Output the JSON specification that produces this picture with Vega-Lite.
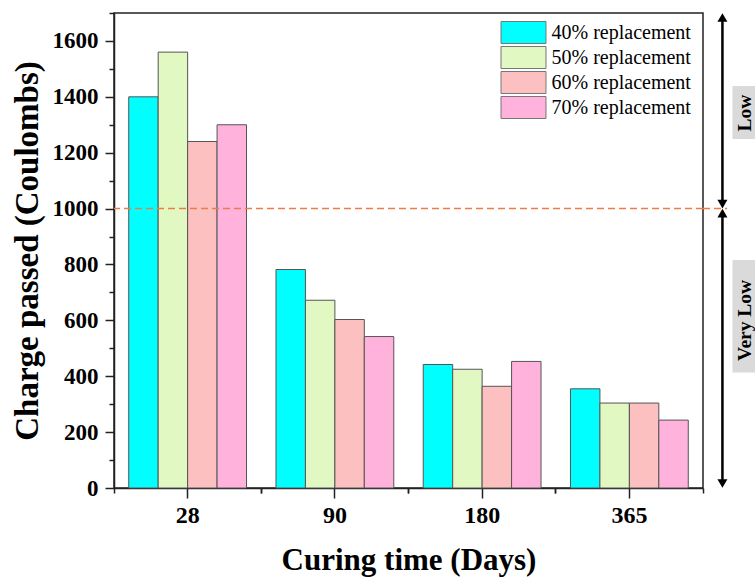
{
  "$schema": "https://vega.github.io/schema/vega-lite/v6.json",
  "width": 589,
  "height": 475,
  "autosize": "none",
  "padding": {"left": 114, "top": 13, "right": 52, "bottom": 89},
  "background": "white",
  "config": {
    "font": "Liberation Serif",
    "view": {"stroke": "#222", "strokeWidth": 1.5},
    "axis": {
      "domainColor": "#222", "domainWidth": 1.5, "tickColor": "#222", "tickWidth": 1.5,
      "labelColor": "black", "titleColor": "black",
      "labelFont": "Liberation Serif", "titleFont": "Liberation Serif",
      "labelFontWeight": "bold", "titleFontWeight": "bold", "grid": false
    },
    "legend": {
      "labelFont": "Liberation Serif", "labelFontSize": 20, "labelColor": "black",
      "symbolStrokeColor": "#777", "symbolStrokeWidth": 1, "symbolOpacity": 1
    }
  },
  "datasets": {
    "charge": [
      {"day": "28", "group": "40% replacement", "value": 1400},
      {"day": "28", "group": "50% replacement", "value": 1560},
      {"day": "28", "group": "60% replacement", "value": 1240},
      {"day": "28", "group": "70% replacement", "value": 1300},
      {"day": "90", "group": "40% replacement", "value": 782},
      {"day": "90", "group": "50% replacement", "value": 672},
      {"day": "90", "group": "60% replacement", "value": 603},
      {"day": "90", "group": "70% replacement", "value": 542},
      {"day": "180", "group": "40% replacement", "value": 442},
      {"day": "180", "group": "50% replacement", "value": 425},
      {"day": "180", "group": "60% replacement", "value": 364},
      {"day": "180", "group": "70% replacement", "value": 453},
      {"day": "365", "group": "40% replacement", "value": 355},
      {"day": "365", "group": "50% replacement", "value": 304},
      {"day": "365", "group": "60% replacement", "value": 304},
      {"day": "365", "group": "70% replacement", "value": 243}
    ],
    "ranges": [
      {"level": "Low", "lo": 1000, "hi": 1700},
      {"level": "Very Low", "lo": 0, "hi": 1000}
    ],
    "labels": [
      {"level": "Low", "mid": 1342, "boxlo": 1249, "boxhi": 1439},
      {"level": "Very Low", "mid": 600, "boxlo": 413, "boxhi": 816}
    ],
    "threshold": [{"limit": 1000}]
  },
  "layer": [
    {
      "data": {"name": "charge"},
      "mark": {"type": "bar", "stroke": "#555", "strokeWidth": 1},
      "encoding": {
        "x": {
          "field": "day", "type": "ordinal", "sort": ["28", "90", "180", "365"],
          "scale": {"type": "band", "domain": ["28", "90", "180", "365"], "paddingInner": 0.2, "paddingOuter": 0.1},
          "axis": {
            "orient": "bottom", "title": "Curing time (Days)", "labelAngle": 0,
            "tickSize": 10, "labelFontSize": 24, "labelPadding": 5,
            "titleFontSize": 31, "titlePadding": 18
          }
        },
        "xOffset": {"field": "group", "type": "nominal", "scale": {"paddingInner": 0, "paddingOuter": 0}},
        "y": {
          "field": "value", "type": "quantitative",
          "scale": {"domain": [0, 1700], "nice": false, "zero": true},
          "axis": {
            "orient": "left", "title": "Charge passed (Coulombs)", "format": "d",
            "values": [0, 200, 400, 600, 800, 1000, 1200, 1400, 1600],
            "tickSize": 9, "labelFontSize": 23, "labelPadding": 7,
            "titleFontSize": 33, "titlePadding": 8
          }
        },
        "color": {
          "field": "group", "type": "nominal",
          "scale": {"range": ["#00FFFF", "#E1F8C2", "#FCC0C0", "#FFB2DC"]},
          "legend": {
            "title": null, "orient": "none", "legendX": 398, "legendY": 8, "padding": 0,
            "symbolType": "M-2.045,-1H2.045V1H-2.045Z", "symbolSize": 484,
            "labelOffset": 16.5, "rowPadding": -2
          }
        }
      }
    },
    {
      "data": {"name": "charge"},
      "mark": {"type": "point", "opacity": 0},
      "encoding": {
        "x": {
          "field": "day", "type": "ordinal", "sort": ["28", "90", "180", "365"],
          "scale": {"type": "band", "domain": ["28", "90", "180", "365"], "paddingInner": 0.2, "paddingOuter": 0.1},
          "axis": {"orient": "bottom", "title": null, "labels": false, "domain": false, "bandPosition": -0.125, "tickSize": 5}
        },
        "y": {
          "field": "value", "type": "quantitative",
          "scale": {"domain": [0, 1700], "nice": false},
          "axis": {
            "orient": "left", "title": null, "labels": false, "domain": false, "tickSize": 5,
            "values": [100, 300, 500, 700, 900, 1100, 1300, 1500, 1700]
          }
        }
      }
    },
    {
      "data": {"name": "charge"},
      "mark": {"type": "point", "opacity": 0},
      "encoding": {
        "x": {
          "field": "day", "type": "ordinal", "sort": ["28", "90", "180", "365"],
          "scale": {"type": "band", "domain": ["28", "90", "180", "365"], "paddingInner": 0.2, "paddingOuter": 0.1},
          "axis": {"orient": "bottom", "title": null, "labels": false, "domain": false, "bandPosition": 1.125, "tickSize": 5}
        }
      }
    },
    {
      "data": {"name": "threshold"},
      "mark": {"type": "rule", "strokeDash": [7, 4], "color": "#EA7E48", "strokeWidth": 1.5},
      "encoding": {
        "y": {"field": "limit", "type": "quantitative", "scale": {"domain": [0, 1700], "nice": false}, "axis": null}
      }
    },
    {
      "layer": [
        {
          "data": {"name": "threshold"},
          "mark": {"type": "rule", "strokeDash": [7, 4], "color": "#EA7E48", "strokeWidth": 1.5, "clip": false},
          "encoding": {
            "x": {"datum": 1.0, "type": "quantitative", "scale": {"domain": [0, 1], "nice": false, "zero": false}, "axis": null},
            "x2": {"datum": 1.041},
            "y": {"field": "limit", "type": "quantitative", "scale": {"domain": [0, 1700], "nice": false}, "axis": null}
          }
        },
        {
          "data": {"name": "labels"},
          "mark": {"type": "rect", "color": "#DADADA", "clip": false},
          "encoding": {
            "x": {"datum": 1.05, "type": "quantitative", "axis": null},
            "x2": {"datum": 1.1},
            "y": {"field": "boxlo", "type": "quantitative", "axis": null},
            "y2": {"field": "boxhi"}
          }
        },
        {
          "data": {"name": "labels"},
          "mark": {"type": "text", "angle": 270, "align": "center", "baseline": "middle", "font": "Liberation Serif", "fontWeight": "bold", "fontSize": 19.5, "color": "black", "clip": false},
          "encoding": {
            "x": {"datum": 1.071, "type": "quantitative", "axis": null},
            "y": {"field": "mid", "type": "quantitative", "axis": null},
            "text": {"field": "level"}
          }
        },
        {
          "data": {"name": "ranges"},
          "mark": {"type": "rule", "color": "black", "strokeWidth": 2.5, "yOffset": -5, "y2Offset": 5, "clip": false},
          "encoding": {
            "x": {"datum": 1.033, "type": "quantitative", "axis": null},
            "y": {"field": "lo", "type": "quantitative", "axis": null},
            "y2": {"field": "hi"}
          }
        },
        {
          "data": {"name": "ranges"},
          "mark": {"type": "point", "shape": "triangle-up", "filled": true, "color": "black", "opacity": 1, "size": 100, "yOffset": 4.5, "clip": false},
          "encoding": {
            "x": {"datum": 1.033, "type": "quantitative", "axis": null},
            "y": {"field": "hi", "type": "quantitative", "axis": null}
          }
        },
        {
          "data": {"name": "ranges"},
          "mark": {"type": "point", "shape": "triangle-down", "filled": true, "color": "black", "opacity": 1, "size": 100, "yOffset": -4.5, "clip": false},
          "encoding": {
            "x": {"datum": 1.033, "type": "quantitative", "axis": null},
            "y": {"field": "lo", "type": "quantitative", "axis": null}
          }
        }
      ]
    }
  ],
  "resolve": {"scale": {"x": "independent"}, "axis": {"x": "independent", "y": "independent"}}
}
